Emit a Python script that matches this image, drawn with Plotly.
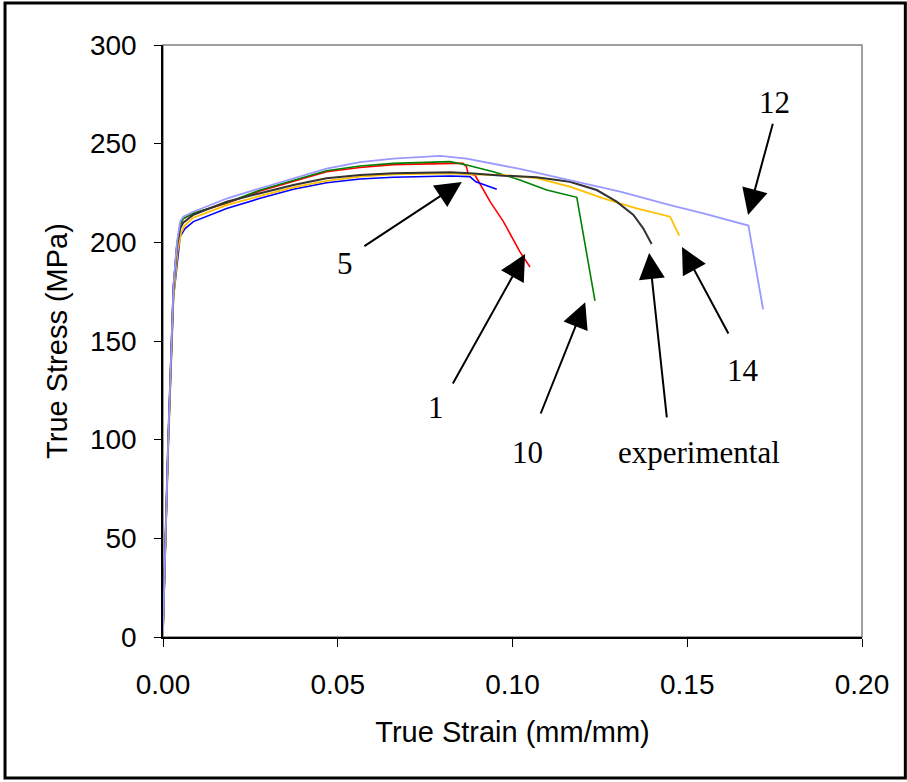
import plotly.graph_objects as go

# ---- data ----
strain_12 = [0, 0.0015, 0.003, 0.0040, 0.0049, 0.0058, 0.0087, 0.0182, 0.0278, 0.0373, 0.0468, 0.0564, 0.0659, 0.0793, 0.0869, 0.1021, 0.1164, 0.1308, 0.1451, 0.1546, 0.1675, 0.1717]
stress_12 = [3, 100, 178, 200, 210.5, 213, 215.5, 222.2, 227.4, 232.3, 237.3, 240.7, 242.4, 243.8, 242.4, 237.2, 231.6, 225.7, 218.9, 214.7, 208.5, 166]

strain_10 = [0, 0.0015, 0.003, 0.0040, 0.0049, 0.0058, 0.0087, 0.0182, 0.0278, 0.0373, 0.0468, 0.0564, 0.0659, 0.0821, 0.0869, 0.0945, 0.1021, 0.1098, 0.1184, 0.1236]
stress_10 = [3, 100, 178, 199, 209, 212, 214.8, 220.1, 226.5, 231.6, 236.3, 238.7, 240, 240.9, 239.2, 235.8, 231.6, 226.5, 222.8, 170.3]

strain_1 = [0, 0.0015, 0.003, 0.0040, 0.0049, 0.0058, 0.0087, 0.0182, 0.0278, 0.0373, 0.0468, 0.0564, 0.0659, 0.0830, 0.0858, 0.0868, 0.0873, 0.0893, 0.0936, 0.0974, 0.1021, 0.105]
stress_1 = [3, 100, 178, 199, 209, 212, 214.6, 219.8, 226, 231, 235.8, 237.9, 239.4, 240, 240, 238.5, 234.8, 234, 220.6, 210.5, 195.3, 187.5]

strain_exp = [0, 0.0015, 0.003, 0.0040, 0.0049, 0.0058, 0.0087, 0.0182, 0.0278, 0.0373, 0.0468, 0.0564, 0.0659, 0.0821, 0.0878, 0.0974, 0.1069, 0.1164, 0.1241, 0.1298, 0.1346, 0.1374, 0.1398]
stress_exp = [5, 100, 177, 198, 207, 210, 214, 220.6, 224.9, 229.1, 232.5, 234.1, 235, 235.5, 235, 233.8, 233, 230.7, 226.5, 220.6, 213.9, 207.1, 199.2]

strain_14 = [0, 0.0015, 0.003, 0.0042, 0.0052, 0.0062, 0.0087, 0.0182, 0.0278, 0.0373, 0.0468, 0.0564, 0.0659, 0.0821, 0.0878, 0.0974, 0.1069, 0.1164, 0.126, 0.1355, 0.1451, 0.1477]
stress_14 = [3, 95, 172, 196, 205, 208.5, 212.5, 218.9, 223.5, 227.9, 231.2, 233.3, 234.5, 235, 234.5, 234.1, 232.5, 228.2, 222.3, 217.2, 213, 203.4]

strain_5 = [0, 0.0015, 0.003, 0.0042, 0.0049, 0.0063, 0.0087, 0.0182, 0.0278, 0.0373, 0.0468, 0.0564, 0.0659, 0.0821, 0.0878, 0.0895, 0.0955]
stress_5 = [3, 98, 172, 193, 202.9, 207, 210.5, 217.2, 222.3, 226.9, 230.2, 232.1, 233, 233.6, 233.3, 230.7, 226.9]

x_ticks = [0.0, 0.05, 0.10, 0.15, 0.20]
x_ticktext = ["0.00", "0.05", "0.10", "0.15", "0.20"]
y_ticks = [0, 50, 100, 150, 200, 250, 300]

# annotation labels: text, label position, arrow tail, arrow tip (data coords)
ann_text = ["5", "1", "10", "experimental", "14", "12"]
ann_label_x = [0.0520, 0.0781, 0.1042, 0.1534, 0.1660, 0.1751]
ann_label_y = [189.5, 116.5, 93.7, 93.7, 134.8, 271.1]
ann_tail_x = [0.0572, 0.0827, 0.1079, 0.1442, 0.1620, 0.1746]
ann_tail_y = [197.6, 127.7, 112.5, 110.5, 153.0, 260.9]
ann_tip_x = [0.0855, 0.1036, 0.1208, 0.1391, 0.1485, 0.1674]
ann_tip_y = [230.6, 194.1, 169.7, 194.6, 197.6, 213.9]

traces = [
    ("1", strain_1, stress_1, "#FF0000", 1.6),
    ("10", strain_10, stress_10, "#008000", 1.6),
    ("5", strain_5, stress_5, "#0000FF", 1.6),
    ("14", strain_14, stress_14, "#FFC000", 1.8),
    ("experimental", strain_exp, stress_exp, "#333333", 2.0),
    ("12", strain_12, stress_12, "#9999FF", 1.8),
]

fig = go.Figure()
for name, xs, ys, col, w in traces:
    fig.add_trace(go.Scatter(x=xs, y=ys, mode="lines", name=name,
                             line=dict(color=col, width=w), showlegend=False))

annotations = []
for t, lx, ly in zip(ann_text, ann_label_x, ann_label_y):
    annotations.append(dict(x=lx, y=ly, xref="x", yref="y", text=t, showarrow=False,
                            font=dict(family="Liberation Serif, Times New Roman, serif", size=31, color="black"),
                            xanchor="center", yanchor="middle"))
for tx, ty, hx, hy in zip(ann_tail_x, ann_tail_y, ann_tip_x, ann_tip_y):
    annotations.append(dict(x=hx, y=hy, xref="x", yref="y", ax=tx, ay=ty, axref="x", ayref="y",
                            text="", showarrow=True, arrowhead=2, arrowsize=2.6, arrowwidth=2,
                            arrowcolor="black"))

fig.update_layout(
    width=907, height=782,
    margin=dict(l=163, r=45, t=45, b=145),
    paper_bgcolor="white", plot_bgcolor="white",
    font=dict(family="Liberation Sans, Arial, sans-serif", color="black"),
    annotations=annotations,
    shapes=[
        dict(type="rect", xref="paper", yref="paper", x0=0, y0=0, x1=1, y1=1,
             line=dict(color="#808080", width=1.5), layer="below"),
        dict(type="rect", xref="paper", yref="paper", x0=-0.226, y0=-0.238, x1=1.062, y1=1.071,
             line=dict(color="black", width=3), layer="above"),
    ],
)
fig.update_xaxes(range=[0, 0.2], tickvals=x_ticks, ticktext=x_ticktext,
                 showgrid=False, zeroline=False, showline=True, linecolor="black", linewidth=1.5,
                 ticks="outside", ticklen=8, tickcolor="black", tickwidth=1,
                 tickfont=dict(size=28), ticklabelstandoff=14,
                 title=dict(text="True Strain (mm/mm)", font=dict(size=29), standoff=22))
fig.update_yaxes(range=[0, 300], tickvals=y_ticks,
                 showgrid=False, zeroline=False, showline=True, linecolor="black", linewidth=1.5,
                 ticks="outside", ticklen=7, tickcolor="black", tickwidth=1,
                 tickfont=dict(size=28), ticklabelstandoff=12,
                 title=dict(text="True Stress (MPa)", font=dict(size=29), standoff=14))

fig.write_html("out.html", config={"displayModeBar": False},
               post_script="document.body.style.margin='0';")
